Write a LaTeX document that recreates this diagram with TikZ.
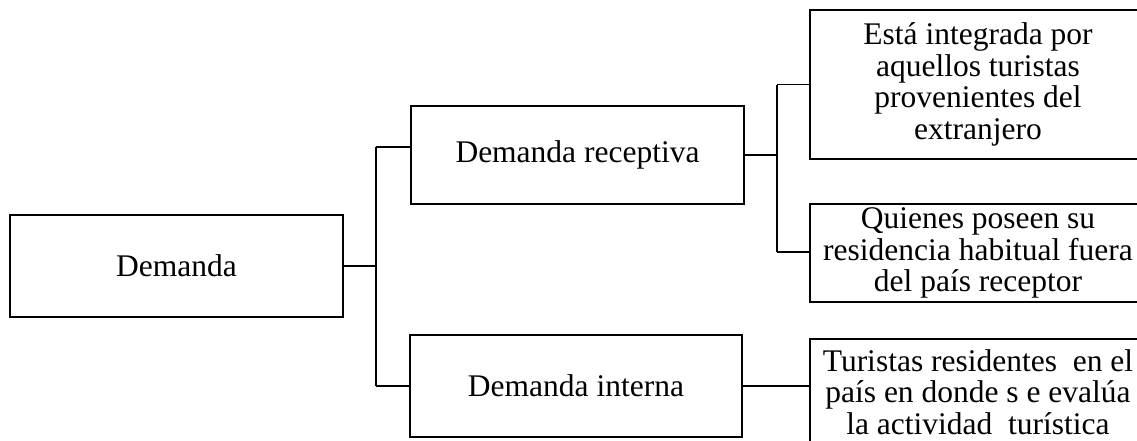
\documentclass[tikz,border=0pt]{standalone}
\usepackage{fontspec}
\setmainfont{Liberation Serif}
\begin{document}
\begin{tikzpicture}[x=1pt,y=-1pt,
  box/.style={draw=black,line width=2pt,rectangle,inner sep=0pt,align=center,
    font=\fontsize{31.5}{31.7}\selectfont},
  link/.style={draw=black,line width=1.8pt},
  heavy/.style={draw=black,line width=2.6pt}]
\useasboundingbox (0,0) rectangle (1137,440);
\clip (0,0) rectangle (1137,440);

% root and second level
\node[box,minimum width=333pt,minimum height=102pt] (dem) at (176.5,266) {Demanda};
\node[box,minimum width=333pt,minimum height=98pt] (rec) at (577.5,155) {Demanda receptiva};
\node[box,minimum width=332pt,minimum height=102pt] (int) at (576,386) {Demanda interna};

% third level (boxes run past the right and bottom edges)
\node[box,minimum width=336pt,minimum height=149pt] (e1) at (978,84.5)
  {Está integrada por\\aquellos turistas\\provenientes del\\extranjero};
\node[box,minimum width=336pt,minimum height=98pt] (e2) at (978,253)
  {Quienes poseen su\\residencia habitual fuera\\del país receptor};
\node[box,minimum width=336pt,minimum height=106pt] (e3) at (978,392)
  {Turistas residentes\ \ en el\\país en donde s e evalúa\\la actividad\ \ turística};

% branch from the root
\coordinate (ja) at (376,147);
\coordinate (jb) at (376,386);
\coordinate (jr) at (376,266);
\draw[heavy] (dem.east) -- (jr);
\draw[link] (ja) -- (jb);
\draw[link] (ja) -- (ja -| rec.west);
\draw[link] (jb) -- (int.west);

% branch from the receptive demand
\coordinate (ka) at (777,84.5);
\coordinate (kb) at (777,252);
\coordinate (kr) at (777,155);
\draw[link] (rec.east) -- (kr);
\draw[link] (ka) -- (kb);
\draw[link] (ka) -- (e1.west);
\draw[link] (kb) -- (kb -| e2.west);

% internal demand to its description
\draw[link] (int.east) -- (int.east -| e3.west);
\end{tikzpicture}
\end{document}
